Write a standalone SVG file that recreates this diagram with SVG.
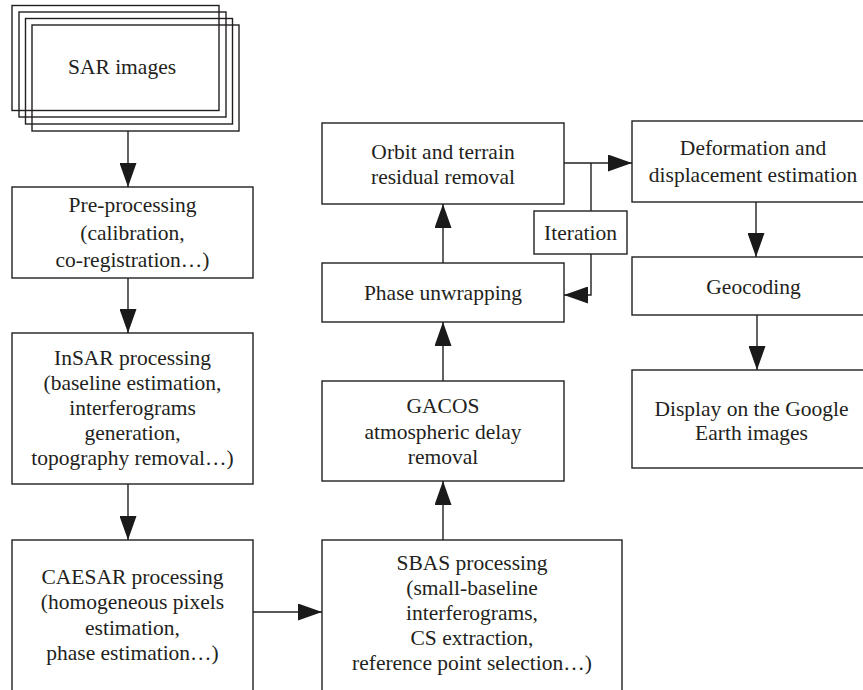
<svg xmlns="http://www.w3.org/2000/svg" width="863" height="690" viewBox="0 0 863 690">
<style>
.box{fill:none;stroke:#231f20;stroke-width:1.4}
.c{fill:none;stroke:#231f20;stroke-width:1.4}
text{font-family:"Liberation Serif","Times New Roman",serif;font-size:21.5px;fill:#231f20;text-anchor:middle}
</style>
<defs>
<marker id="ah" markerUnits="userSpaceOnUse" markerWidth="24" markerHeight="17" refX="24" refY="8.5" orient="auto">
<path d="M0,0 L24,8.5 L0,17 Z" fill="#1a1a1a"/>
</marker>
</defs>
<rect width="863" height="690" fill="#fff"/>
<g id="sar">
<rect class="box" x="12" y="5.5" width="207" height="105"/>
<rect class="box" x="19" y="12" width="207" height="105"/>
<rect class="box" x="25.5" y="18.5" width="207" height="105.5"/>
<rect class="box" x="32" y="25" width="207" height="106"/>
<text x="122" y="74">SAR images</text>
</g>
<g id="preprocessing">
<rect class="box" x="12" y="187" width="241" height="91"/>
<text x="132.5" y="212">Pre-processing</text>
<text x="132.5" y="240">(calibration,</text>
<text x="132.5" y="267">co-registration…)</text>
</g>
<g id="insar">
<rect class="box" x="12" y="333" width="241" height="151"/>
<text x="132.5" y="365">InSAR processing</text>
<text x="132.5" y="390">(baseline estimation,</text>
<text x="132.5" y="415">interferograms</text>
<text x="132.5" y="440">generation,</text>
<text x="132.5" y="465">topography removal…)</text>
</g>
<g id="caesar">
<rect class="box" x="12" y="540" width="241" height="170"/>
<text x="132.5" y="584">CAESAR processing</text>
<text x="132.5" y="609">(homogeneous pixels</text>
<text x="132.5" y="635">estimation,</text>
<text x="132.5" y="660">phase estimation…)</text>
</g>
<g id="sbas">
<rect class="box" x="322" y="540" width="300" height="170"/>
<text x="472" y="570">SBAS processing</text>
<text x="472" y="595">(small-baseline</text>
<text x="472" y="620">interferograms,</text>
<text x="472" y="645">CS extraction,</text>
<text x="472" y="670">reference point selection…)</text>
</g>
<g id="gacos">
<rect class="box" x="322" y="381" width="242" height="100"/>
<text x="443" y="413">GACOS</text>
<text x="443" y="439">atmospheric delay</text>
<text x="443" y="464">removal</text>
</g>
<g id="phase">
<rect class="box" x="322" y="263" width="242" height="59"/>
<text x="443" y="300">Phase unwrapping</text>
</g>
<g id="orbit">
<rect class="box" x="322" y="123" width="242" height="81"/>
<text x="443" y="159">Orbit and terrain</text>
<text x="443" y="184">residual removal</text>
</g>
<g id="iteration">
<rect class="box" x="534" y="211" width="93" height="43"/>
<text x="580.5" y="240">Iteration</text>
</g>
<g id="deformation">
<rect class="box" x="632" y="121" width="243" height="81"/>
<text x="753" y="155">Deformation and</text>
<text x="753" y="182">displacement estimation</text>
</g>
<g id="geocoding">
<rect class="box" x="632" y="257" width="243" height="58"/>
<text x="753.5" y="294">Geocoding</text>
</g>
<g id="display">
<rect class="box" x="632" y="370" width="243" height="98"/>
<text x="751.5" y="416">Display on the Google</text>
<text x="751.5" y="440">Earth images</text>
</g>
<g id="connectors">
<path class="c" d="M128,131 V187" marker-end="url(#ah)"/>
<path class="c" d="M128,278 V333" marker-end="url(#ah)"/>
<path class="c" d="M128,484 V540" marker-end="url(#ah)"/>
<path class="c" d="M253,612 H322" marker-end="url(#ah)"/>
<path class="c" d="M443,540 V481" marker-end="url(#ah)"/>
<path class="c" d="M443,381 V322" marker-end="url(#ah)"/>
<path class="c" d="M443,263 V204" marker-end="url(#ah)"/>
<path class="c" d="M564,163 H632" marker-end="url(#ah)"/>
<path class="c" d="M591,163 V211"/>
<path class="c" d="M591,254 V295 H564" marker-end="url(#ah)"/>
<path class="c" d="M756,202 V257" marker-end="url(#ah)"/>
<path class="c" d="M757,315 V370" marker-end="url(#ah)"/>
</g>
</svg>
